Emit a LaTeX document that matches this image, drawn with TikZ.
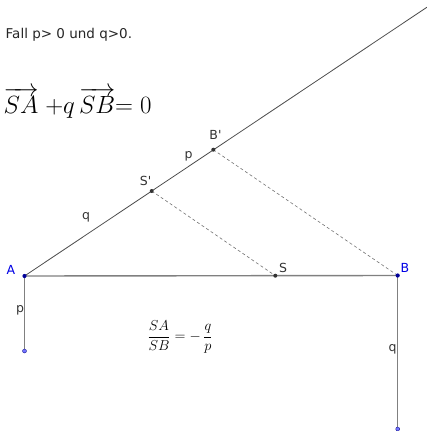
\documentclass[tikz,border=0pt]{standalone}
\usepackage{amsmath}
\usepackage{fontspec}
\newfontfamily\labelfont{DejaVu Sans}
\begin{document}
\begin{tikzpicture}[x=1pt,y=-1pt,
  lbl/.style={font=\labelfont\fontsize{12.5}{14}\selectfont, text=black!80, inner sep=0pt},
  blbl/.style={lbl, text=blue!90!black},
  pt/.style={circle, fill=black!80, inner sep=0pt, minimum size=4pt},
  bpt/.style={circle, fill=blue!60!black, inner sep=0pt, minimum size=4.2pt},
  lpt/.style={circle, fill=blue!55!white, draw=blue!50!black, line width=0.3pt, inner sep=0pt, minimum size=4pt},
  ray/.style={draw=black!70, line width=0.8pt},
  seg/.style={draw=black!50, line width=1.4pt},
  dashline/.style={draw=black!55, line width=0.6pt, dash pattern=on 3pt off 2.5pt}
]
\useasboundingbox (0,0) rectangle (427,431);
% points
\coordinate (A) at (24.5,276);
\coordinate (B) at (397.7,275.5);
\coordinate (S) at (275.3,275.7);
\coordinate (Sp) at (151.7,191);
\coordinate (Bp) at (213.3,149.7);
\coordinate (Ad) at (24.5,351);
\coordinate (Bd) at (397.7,429);
\coordinate (R) at (427,7.2);
% lines
\draw[seg] (A) -- (B);
\draw[seg, line width=1.2pt] (A) -- (Ad);
\draw[seg, line width=1.2pt] (B) -- (Bd);
\draw[ray] (A) -- (R);
\draw[dashline] (Sp) -- (S);
\draw[dashline] (Bp) -- (B);
% point marks
\node[pt] (nS) at (S) {};
\node[pt] (nSp) at (Sp) {};
\node[pt] (nBp) at (Bp) {};
\node[bpt] (nA) at (A) {};
\node[bpt] (nB) at (B) {};
\node[lpt] (nAd) at (Ad) {};
\node[lpt] (nBd) at (Bd) {};
% labels
\node[blbl] (lA) at (11,269.5) {A};
\node[blbl] (lB) at (405,268) {B};
\node[lbl] (lS) at (283,268) {S};
\node[lbl] (lSp) at (145.5,181) {S'};
\node[lbl] (lBp) at (215.5,135) {B'};
\node[lbl] (lp1) at (188.5,156) {p};
\node[lbl] (lq1) at (86,217) {q};
\node[lbl] (lp2) at (20,310) {p};
\node[lbl] (lq2) at (392.5,349) {q};
% texts
\node[anchor=west, inner sep=0pt, font=\labelfont\fontsize{13.5}{16}\selectfont, text=black!85] (title) at (5.5,34.5) {Fall p> 0 und q>0.};
\node[anchor=base west, inner sep=0pt, font=\fontsize{23.5}{28}\selectfont] (eq) at (3.5,113.5) {$\overrightarrow{SA}\;{+}q\,\overrightarrow{SB}{=}\;0$};
\node[inner sep=0pt, font=\fontsize{14.5}{17}\selectfont] (frac) at (180,337) {$\dfrac{SA}{SB}=-\,\dfrac{q}{p}$};
\end{tikzpicture}
\end{document}
